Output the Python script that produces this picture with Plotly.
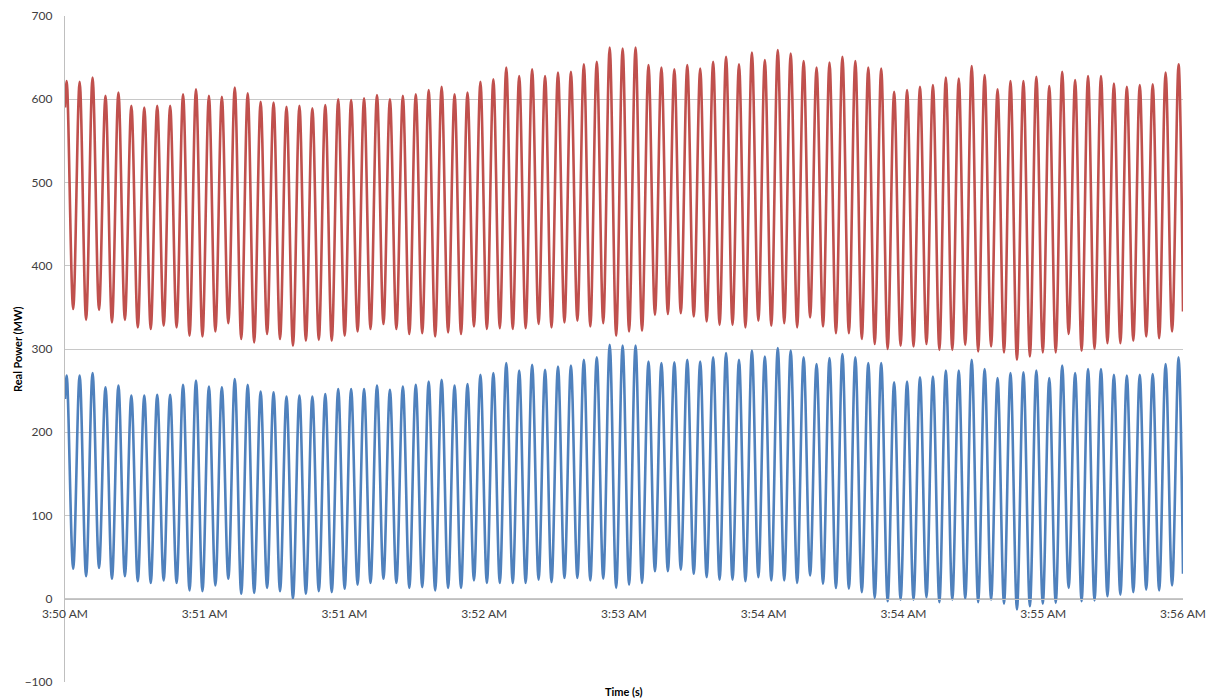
import plotly.graph_objects as go

# ---- data ----
TICK_SECONDS = [0, 45, 90, 135, 180, 225, 270, 315, 360]
TICK_LABELS = ["3:50 AM", "3:51 AM", "3:51 AM", "3:52 AM", "3:53 AM",
               "3:54 AM", "3:54 AM", "3:55 AM", "3:56 AM"]

FIRST_PEAK_S = 0.55      # time of first peak (s after 3:50:00)
PERIOD_S = 4.163         # oscillation period (s)
END_S = 360

RED_START, RED_END = 590, 345
BLUE_START, BLUE_END = 240, 30

RED_PEAKS = [622, 621, 626, 604, 608, 592, 590, 592, 592, 606,
             612, 604, 603, 614, 607, 597, 596, 591, 592, 589,
             593, 600, 599, 601, 605, 600, 604, 606, 611,
             615, 606, 608, 621, 624, 638, 628, 636, 628, 632,
             633, 642, 645, 662, 661, 662, 641, 638, 636, 641,
             637, 645, 651, 642, 656, 647, 659, 655, 646,
             638, 644, 651, 646, 638, 637, 609, 611, 615, 617,
             626, 625, 640, 629, 612, 622, 622, 627, 616, 633,
             623, 628, 628, 619, 615, 617, 618, 632, 642]
RED_TROUGHS = [348, 335, 347, 332, 335, 326, 324, 328, 326, 316,
               315, 321, 331, 312, 308, 318, 312, 304, 310, 311,
               310, 316, 321, 324, 330, 324, 318, 319, 315,
               320, 318, 327, 324, 325, 324, 325, 330, 326, 332,
               334, 327, 331, 316, 321, 322, 341, 342, 343, 339,
               333, 329, 329, 326, 334, 328, 331, 326, 338,
               327, 319, 319, 312, 306, 300, 304, 303, 306, 299,
               299, 305, 297, 303, 296, 287, 291, 296, 296, 318,
               298, 300, 307, 307, 310, 315, 313, 321]
BLUE_PEAKS = [268, 268, 271, 254, 256, 244, 244, 245, 245, 257,
              262, 255, 254, 264, 257, 249, 248, 243, 244, 243,
              246, 252, 252, 252, 256, 251, 255, 257, 261,
              263, 256, 258, 269, 271, 283, 274, 281, 275, 279,
              280, 287, 290, 305, 304, 304, 285, 283, 284, 287,
              285, 290, 295, 287, 298, 291, 301, 298, 290,
              282, 289, 294, 290, 283, 283, 260, 261, 266, 267,
              274, 274, 287, 276, 265, 271, 272, 274, 265, 280,
              271, 276, 276, 269, 268, 269, 270, 282, 290]
BLUE_TROUGHS = [36, 27, 37, 24, 27, 21, 19, 22, 19, 10,
                9, 16, 24, 6, 7, 13, 9, 0, 6, 9,
                8, 12, 17, 19, 24, 19, 13, 14, 10,
                13, 13, 22, 19, 19, 19, 19, 23, 20, 25,
                25, 22, 24, 13, 17, 19, 33, 33, 35, 30,
                26, 23, 23, 21, 26, 22, 22, 19, 28,
                18, 13, 12, 8, 1, -3, -1, -1, 2, -4,
                -1, 0, -4, -1, -6, -13, -9, -6, -5, 13,
                -3, -2, 3, 5, 8, 11, 10, 16]


def build(start, peaks, troughs, end):
    ys = [start]
    for i, p in enumerate(peaks):
        ys.append(p)
        if i < len(troughs):
            ys.append(troughs[i])
    ys.append(end)
    n = len(peaks) + len(troughs)
    xs = [0] + [FIRST_PEAK_S + i * PERIOD_S / 2 for i in range(n)] + [END_S]
    return xs, ys


rx, ry = build(RED_START, RED_PEAKS, RED_TROUGHS, RED_END)
bx, by = build(BLUE_START, BLUE_PEAKS, BLUE_TROUGHS, BLUE_END)

fig = go.Figure()
fig.add_trace(go.Scatter(x=rx, y=ry, mode="lines",
                         line=dict(color="#C0504D", width=2.6, shape="spline"),
                         name="Red", showlegend=False))
fig.add_trace(go.Scatter(x=bx, y=by, mode="lines",
                         line=dict(color="#4F81BD", width=2.6, shape="spline"),
                         name="Blue", showlegend=False))

FONT = "Lato, 'Open Sans', sans-serif"
fig.update_layout(
    width=1211, height=700,
    margin=dict(l=65, r=28, t=16, b=18, autoexpand=False),
    plot_bgcolor="white", paper_bgcolor="white",
    font=dict(family=FONT, size=12, color="#404040"),
    xaxis=dict(range=[0, END_S], tickvals=TICK_SECONDS, ticktext=TICK_LABELS,
               showgrid=False, zeroline=False, showline=True,
               linecolor="#BFBFBF", linewidth=1.2, automargin=False,
               anchor="free", position=0.125, ticks="",
               ticklabelstandoff=4,
               tickfont=dict(family=FONT, size=12, color="#404040")),
    yaxis=dict(range=[-100, 700], dtick=100, showgrid=True,
               gridcolor="#C8C8C8", gridwidth=1.2, zeroline=False,
               showline=True, linecolor="#BFBFBF", linewidth=1.2,
               automargin=False, ticks="", ticklabelstandoff=9,
               tickfont=dict(family=FONT, size=12, color="#404040")),
    annotations=[
        dict(text="<b>Time (s)</b>", x=0.5, y=0, xref="paper",
             yref="paper", yshift=-9, showarrow=False, yanchor="middle",
             font=dict(family=FONT, size=11, color="#000000")),
        dict(text="<b>Real Power (MW)</b>", x=0, y=0.5, xref="paper",
             yref="paper", xshift=-48, showarrow=False, textangle=-90,
             xanchor="center", yanchor="middle",
             font=dict(family=FONT, size=11, color="#000000")),
    ],
)

# remove the page's default 8px body margin so the figure fills the window
fig.write_html(
    "out.html",
    config={"displayModeBar": False},
    post_script="document.body.style.margin='0';"
                "document.body.style.overflow='hidden';",
)
